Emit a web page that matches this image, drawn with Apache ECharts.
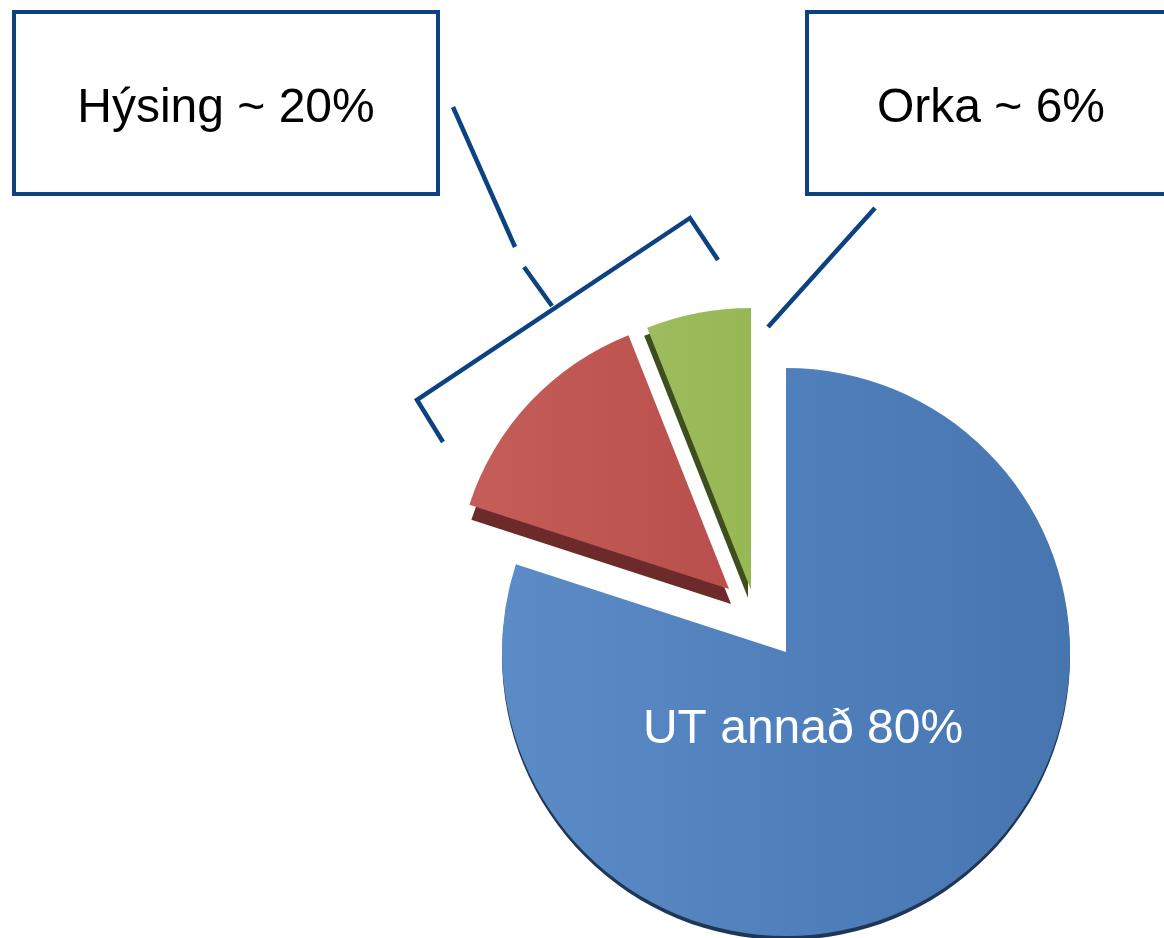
<!DOCTYPE html>
<html>
<head>
<meta charset="utf-8">
<script src="https://cdn.jsdelivr.net/npm/echarts@6/dist/echarts.min.js"></script>
<style>
html,body{margin:0;padding:0;background:#fff;}
#chart{width:1164px;height:938px;}
</style>
</head>
<body>
<div id="chart"></div>
<script>
// ---- data ----
const categories = ['UT annað', 'Hýsing', 'Orka'];
const values = [80, 14, 6];
const calloutLabels = ['UT annað 80%', 'Hýsing ~ 20%', 'Orka ~ 6%'];

// ---- styling ----
const faceColors = [
  {type:'linear',x:0,y:0,x2:1,y2:0,colorStops:[{offset:0,color:'#5b8cc8'},{offset:1,color:'#4675b0'}]},
  {type:'linear',x:0,y:0,x2:1,y2:0,colorStops:[{offset:0,color:'#c55d58'},{offset:1,color:'#b84f4c'}]},
  {type:'linear',x:0,y:0,x2:1,y2:0,colorStops:[{offset:0,color:'#9dbc5e'},{offset:1,color:'#97b854'}]}
];
const sideColors = ['#1f3656', '#6c2a2a', '#404d1e'];
const faceCenters = [[786, 652], [729, 589], [751, 590]];
const sideCenters = [[786, 656], [731, 604], [748, 598]];
const radii = [284, 273, 282];
const ink = '#0d4280';

function sliceSeries(idx, center, color, z) {
  return {
    type: 'pie',
    center: center,
    radius: [0, radii[idx]],
    startAngle: 90,
    clockwise: true,
    silent: true,
    animation: false,
    z: z,
    label: {show: false},
    labelLine: {show: false},
    emphasis: {disabled: true},
    data: categories.map((c, i) => ({
      name: c,
      value: values[i],
      itemStyle: {color: i === idx ? color : 'rgba(0,0,0,0)', borderWidth: 0}
    }))
  };
}

const series = [];
for (let i = 0; i < categories.length; i++) series.push(sliceSeries(i, sideCenters[i], sideColors[i], 1));
for (let i = 0; i < categories.length; i++) series.push(sliceSeries(i, faceCenters[i], faceColors[i], 2));

const font = '"Liberation Sans", Arial, sans-serif';
const lineStyle = {stroke: ink, lineWidth: 4.5, fill: null};

const chart = echarts.init(document.getElementById('chart'), null, {renderer: 'canvas'});
chart.setOption({
  backgroundColor: '#ffffff',
  animation: false,
  series: series,
  graphic: [
    {type:'rect', shape:{x:14, y:12, width:424, height:182}, style:{fill:'#fff', stroke:ink, lineWidth:4}, z:10},
    {type:'rect', shape:{x:807, y:12, width:400, height:182}, style:{fill:'#fff', stroke:ink, lineWidth:4}, z:10},
    {type:'text', x:226, y:109, style:{text:calloutLabels[1], font:'48px ' + font, fill:'#000', align:'center', verticalAlign:'middle'}, z:11},
    {type:'text', x:991, y:109, style:{text:calloutLabels[2], font:'48px ' + font, fill:'#000', align:'center', verticalAlign:'middle'}, z:11},
    {type:'text', x:803, y:730, style:{text:calloutLabels[0], font:'48px ' + font, fill:'#fff', align:'center', verticalAlign:'middle'}, z:11},
    // Hýsing leader (with gap)
    {type:'polyline', shape:{points:[[453,107],[515,247]]}, style:lineStyle, z:10},
    {type:'polyline', shape:{points:[[524,267],[552,306]]}, style:lineStyle, z:10},
    // bracket
    {type:'polyline', shape:{points:[[443,442],[417,400],[690,218],[718,260]]}, style:lineStyle, z:10},
    // Orka leader
    {type:'polyline', shape:{points:[[875,208],[768,327]]}, style:lineStyle, z:10}
  ]
});
</script>
</body>
</html>
